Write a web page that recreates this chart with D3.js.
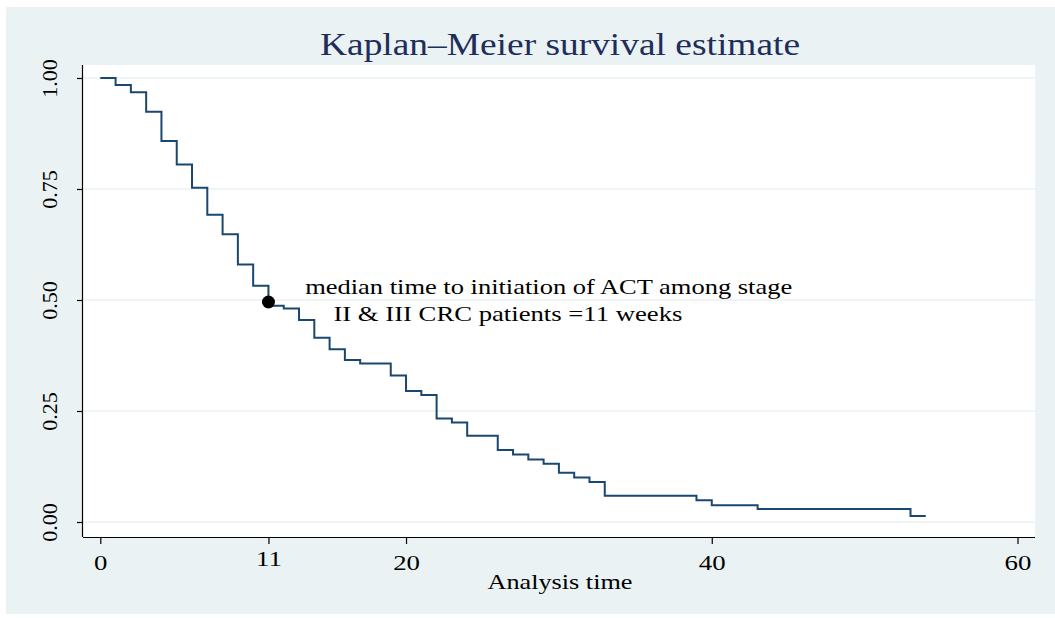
<!DOCTYPE html>
<html>
<head>
<meta charset="utf-8">
<title>Kaplan-Meier survival estimate</title>
<script src="https://cdn.jsdelivr.net/npm/d3@7"></script>
<style>
  body { margin: 0; background: #fff; }
  text { font-family: "Liberation Serif", "Times New Roman", serif; }
</style>
</head>
<body>
<svg id="chart" width="1055" height="618"></svg>
<script>
// step times (weeks) and survival estimate after each step
var times = [0, 1, 2, 3, 4, 5, 6, 7, 8, 9, 10, 11, 12, 13, 14, 15, 16, 17, 19, 20,
             21, 22, 23, 24, 26, 27, 28, 29, 30, 31, 32, 33, 39, 40, 43, 53];
var survival = [1.00, 0.984, 0.968, 0.924, 0.858, 0.805, 0.753, 0.692, 0.648, 0.580,
                0.532, 0.487, 0.481, 0.455, 0.415, 0.389, 0.365, 0.357, 0.330, 0.295,
                0.286, 0.233, 0.224, 0.194, 0.162, 0.152, 0.141, 0.131, 0.111, 0.100,
                0.090, 0.059, 0.049, 0.038, 0.029, 0.0135];
var lastTime = 54;
var xTicks = [0, 11, 20, 40, 60];
var yTicks = [0, 0.25, 0.5, 0.75, 1];
var medianTime = 11;
var noteLines = ["median time to initiation of ACT among stage",
                 "II & III CRC patients =11 weeks"];

var svg = d3.select("#chart");

// outer panel
svg.append("rect").attr("x", 6).attr("y", 7).attr("width", 1049).attr("height", 607)
  .attr("fill", "#eaf2f3");

var plotL = 83, plotR = 1035, plotT = 65, plotB = 537;
svg.append("rect").attr("x", plotL).attr("y", plotT)
  .attr("width", plotR - plotL).attr("height", plotB - plotT).attr("fill", "#fff");

var x = d3.scaleLinear().domain([0, 60]).range([100.3, 1017.5]);
var y = d3.scaleLinear().domain([0, 1]).range([522, 78]);

// grid
svg.append("g").selectAll("line").data(yTicks).enter().append("line")
  .attr("x1", plotL).attr("x2", plotR)
  .attr("y1", function(d) { return y(d); }).attr("y2", function(d) { return y(d); })
  .attr("stroke", "#eaf2f3").attr("stroke-width", 1.5);

// stretch text a bit wider, like the original export
function widen(sel, k) {
  sel.each(function() {
    var w = this.getComputedTextLength();
    d3.select(this).attr("textLength", w * k).attr("lengthAdjust", "spacingAndGlyphs");
  });
}

// axes
var xAxis = svg.append("g").attr("transform", "translate(0," + plotB + ")")
  .call(d3.axisBottom(x).tickValues(xTicks).tickSize(7).tickSizeOuter(0).tickPadding(10));
xAxis.select(".domain").attr("d", "M" + plotL + ",0.5H" + plotR);
xAxis.selectAll("text").attr("font-size", 22).attr("fill", "#000")
  .attr("font-family", "Liberation Serif, serif")
  .attr("dy", function(d) { return d === 11 ? "0.55em" : "0.71em"; });
widen(xAxis.selectAll("text"), 1.22);

var yAxis = svg.append("g").attr("transform", "translate(" + plotL + ",0)")
  .call(d3.axisLeft(y).tickValues(yTicks).tickSize(6).tickSizeOuter(0)
    .tickFormat(d3.format(".2f")));
yAxis.select(".domain").attr("d", "M-0.5," + plotT + "V" + plotB);
yAxis.selectAll(".tick text")
  .attr("font-size", 22).attr("fill", "#000").attr("font-family", "Liberation Serif, serif")
  .attr("x", null).attr("dy", null)
  .attr("text-anchor", "middle")
  .attr("transform", "translate(-26,0) rotate(-90)");
svg.selectAll(".domain, .tick line").attr("stroke", "#000").attr("stroke-width", 1.2);

// survival curve
var pts = times.map(function(t, i) { return [t, survival[i]]; });
pts.push([lastTime, survival[survival.length - 1]]);
var line = d3.line()
  .x(function(d) { return x(d[0]); })
  .y(function(d) { return y(d[1]); })
  .curve(d3.curveStepAfter);
svg.append("path").datum(pts).attr("d", line)
  .attr("fill", "none").attr("stroke", "#1a476f").attr("stroke-width", 2);

// median marker
svg.append("circle").attr("cx", x(medianTime)).attr("cy", y(0.5) + 2).attr("r", 6.5)
  .attr("fill", "#000");

svg.append("text").attr("x", x(13.4)).attr("y", 294)
  .attr("font-size", 21).attr("textLength", 487).attr("lengthAdjust", "spacingAndGlyphs")
  .text(noteLines[0]);
svg.append("text").attr("x", x(15.25)).attr("y", 321)
  .attr("font-size", 21).attr("textLength", 349).attr("lengthAdjust", "spacingAndGlyphs")
  .text(noteLines[1]);

// titles
svg.append("text").attr("x", 560).attr("y", 55).attr("text-anchor", "middle")
  .attr("font-size", 31).attr("fill", "#1f2d5a")
  .attr("textLength", 480).attr("lengthAdjust", "spacingAndGlyphs")
  .text("Kaplan–Meier survival estimate");
svg.append("text").attr("x", 560).attr("y", 589).attr("text-anchor", "middle")
  .attr("font-size", 22).attr("fill", "#000")
  .attr("textLength", 145).attr("lengthAdjust", "spacingAndGlyphs")
  .text("Analysis time");
</script>
</body>
</html>
